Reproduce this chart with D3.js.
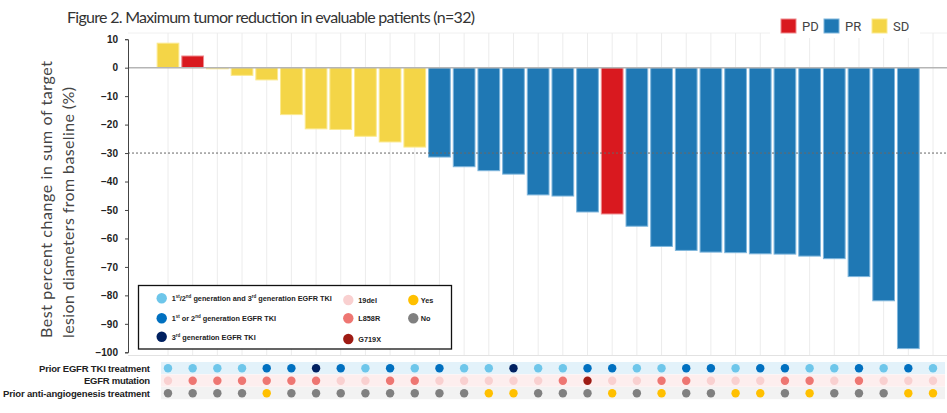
<!DOCTYPE html>
<html>
<head>
<meta charset="utf-8">
<script src="https://cdn.jsdelivr.net/npm/d3@7"></script>
<style>
  body { margin: 0; background: #fff; }
  svg { display: block; }
  .tick text { font-family: "Liberation Sans", Arial, sans-serif; font-weight: bold; font-size: 10px; fill: #222; }
</style>
</head>
<body>
<script>
// data
const patientIds = [1,2,3,4,5,6,7,8,9,10,11,12,13,14,15,16,17,18,19,20,21,22,23,24,25,26,27,28,29,30,31,32];
const bestChange = [8.6, 4.1, -0.4, -2.7, -4.3, -16.5, -21.5, -21.7, -24.1, -26.1, -27.9, -31.4, -34.8, -36.2, -37.4, -44.7,
                    -45.1, -50.7, -51.4, -55.7, -62.8, -64.2, -64.8, -65.0, -65.4, -65.5, -66.2, -67.1, -73.4, -81.9, -98.7, null];
const response = ["SD","PD","SD","SD","SD","SD","SD","SD","SD","SD","SD","PR","PR","PR","PR","PR",
                  "PR","PR","PD","PR","PR","PR","PR","PR","PR","PR","PR","PR","PR","PR","PR", null];
const priorTki = ["both","both","both","both","early","early","third","early","both","early","both","early","both","both","third","both",
                  "both","early","early","both","both","early","early","both","early","early","both","both","early","both","early","both"];
const mutation = ["19del","L858R","L858R","L858R","L858R","L858R","L858R","19del","19del","L858R","L858R","19del","19del","19del","19del","19del",
                  "L858R","G719X","19del","19del","L858R","L858R","19del","19del","19del","L858R","L858R","19del","L858R","19del","19del","19del"];
const antiAngio = ["No","No","No","No","Yes","No","No","No","No","No","No","No","No","Yes","Yes","No",
                   "No","No","Yes","No","Yes","No","No","Yes","Yes","No","Yes","No","No","No","Yes","Yes"];
const yTicks = [10,0,-10,-20,-30,-40,-50,-60,-70,-80,-90,-100];
const responseKeys = ["PD","PR","SD"];

const respColor = {PD: "#d9191f", PR: "#1f78b4", SD: "#f4d547"};
const respStroke = {PD: "#ee8a8d", PR: "#7fb6dc", SD: "#fbe98f"};
const tkiColor = {both: "#6ec6ea", early: "#0070c0", third: "#002060"};
const mutColor = {"19del": "#f9d0d0", "L858R": "#ee7672", "G719X": "#9e1b14"};
const angioColor = {Yes: "#ffc000", No: "#808080"};

const w = 947, h = 413;
const axisX = 128;

const svg = d3.select("body").append("svg").attr("width", w).attr("height", h);

const x = d3.scalePoint().domain(patientIds).range([168, 933]);
const step = x.step();
const barW = step * 0.88;
const y = d3.scaleLinear().domain([-100, 10]).range([352.3, 39.2]);

// title
svg.append("text")
  .attr("x", 67).attr("y", 23)
  .attr("textLength", 408)
  .style("font-family", "Lato, sans-serif")
  .style("font-size", "16px")
  .style("fill", "#333")
  .text("Figure 2. Maximum tumor reduction in evaluable patients (n=32)");

// y axis title, two lines
const yt = svg.append("g").attr("transform", "translate(0,338) rotate(-90)");
yt.append("text").attr("x", 0).attr("y", 52).attr("textLength", 277)
  .style("font-family", "Lato, sans-serif").style("font-size", "16px").style("fill", "#444")
  .text("Best percent change in sum of target");
yt.append("text").attr("x", 0).attr("y", 74).attr("textLength", 251)
  .style("font-family", "Lato, sans-serif").style("font-size", "16px").style("fill", "#444")
  .text("lesion diameters from baseline (%)");

// gridlines
svg.append("line").attr("x1", axisX).attr("x2", w).attr("y1", 33).attr("y2", 33)
  .attr("stroke", "#f0f0f0");
svg.append("g").selectAll("line").data(patientIds).enter().append("line")
  .attr("x1", d => x(d)).attr("x2", d => x(d))
  .attr("y1", 33).attr("y2", 355)
  .attr("stroke", "#ececec").attr("stroke-width", 1);
svg.append("line").attr("x1", axisX).attr("x2", w).attr("y1", 355.5).attr("y2", 355.5)
  .attr("stroke", "#e2e2e2");

// bars
svg.append("g").selectAll("rect")
  .data(patientIds.filter((d, i) => bestChange[i] !== null))
  .enter().append("rect")
  .attr("x", d => x(d) - barW / 2)
  .attr("width", barW)
  .attr("y", d => Math.min(y(bestChange[d - 1]), y(0)))
  .attr("height", d => Math.max(1, Math.abs(y(bestChange[d - 1]) - y(0))))
  .attr("fill", d => respColor[response[d - 1]])
  .attr("stroke", d => respStroke[response[d - 1]])
  .attr("stroke-width", 1);

// zero line and -30 line
svg.append("line").attr("x1", axisX).attr("x2", w).attr("y1", y(0)).attr("y2", y(0))
  .attr("stroke", "#b5b5b5").attr("stroke-width", 1.5);
svg.append("line").attr("x1", axisX).attr("x2", w).attr("y1", y(-30)).attr("y2", y(-30))
  .attr("stroke", "#666").attr("stroke-width", 1).attr("stroke-dasharray", "2,2");

// y axis
const yAxis = d3.axisLeft(y).tickValues(yTicks).tickSize(3).tickPadding(7);
const ya = svg.append("g").attr("transform", "translate(" + axisX + ",0)").call(yAxis);
ya.select(".domain").attr("stroke", "#444");
ya.selectAll(".tick line").attr("stroke", "#444");

// response legend (top right)
const rl = svg.append("g");
rl.append("rect").attr("x", 770).attr("y", 14).attr("width", 150).attr("height", 24).attr("fill", "#fff");
const rlx = [781, 824, 872];
responseKeys.forEach((k, i) => {
  rl.append("rect").attr("x", rlx[i]).attr("y", 19).attr("width", 15).attr("height", 14)
    .attr("fill", respColor[k]).attr("stroke", respStroke[k]);
  rl.append("text").attr("x", rlx[i] + 21).attr("y", 31)
    .style("font-family", "Roboto, sans-serif").style("font-size", "13px").style("fill", "#444")
    .text(k);
});

// patient characteristic rows
const rows = [
  {label: "Prior EGFR TKI treatment", len: 111, vals: priorTki, colors: tkiColor, band: "#e3f2fa", cy: 368.3},
  {label: "EGFR mutation", len: 66, vals: mutation, colors: mutColor, band: "#fdeeee", cy: 380.8},
  {label: "Prior anti-angiogenesis treatment", len: 147, vals: antiAngio, colors: angioColor, band: "#f2f2f2", cy: 393.3}
];
rows.forEach(r => {
  svg.append("rect").attr("x", 161).attr("width", 945 - 161)
    .attr("y", r.cy - 6.3).attr("height", 12.2).attr("fill", r.band);
  svg.append("text").attr("x", 150).attr("y", r.cy + 3.6).attr("text-anchor", "end")
    .attr("textLength", r.len)
    .style("font-family", "'Liberation Sans', Arial, sans-serif").style("font-weight", "bold")
    .style("font-size", "9.5px").style("fill", "#222")
    .text(r.label);
  svg.append("g").selectAll("circle").data(patientIds).enter().append("circle")
    .attr("cx", d => x(d)).attr("cy", r.cy).attr("r", 4.2)
    .attr("fill", d => r.colors[r.vals[d - 1]]);
});

// characteristics legend box
const lg = svg.append("g");
lg.append("rect").attr("x", 138.5).attr("y", 285.5).attr("width", 313).attr("height", 63.5)
  .attr("fill", "#fff").attr("stroke", "#111").attr("stroke-width", 1.3);

const legFont = (t) => t.style("font-family", "'Liberation Sans', Arial, sans-serif")
  .style("font-weight", "bold").style("font-size", "7.3px").style("fill", "#222");

function supText(g, xx, yy, parts) {
  const t = g.append("text").attr("x", xx).attr("y", yy);
  legFont(t);
  parts.forEach(p => {
    const s = t.append("tspan").text(p[0]);
    if (p[1]) s.attr("dy", -3).style("font-size", "4.5px");
    else if (p[2]) s.attr("dy", 3);
  });
}
const tkiItems = [
  {key: "both", cy: 298.3, parts: [["1"],["st",1],["/2",0,1],["nd",1],[" generation and 3",0,1],["rd",1],[" generation EGFR TKI",0,1]]},
  {key: "early", cy: 318.3, parts: [["1"],["st",1],[" or 2",0,1],["nd",1],[" generation EGFR TKI",0,1]]},
  {key: "third", cy: 336.7, parts: [["3"],["rd",1],[" generation EGFR TKI",0,1]]}
];
tkiItems.forEach(it => {
  lg.append("circle").attr("cx", 161.7).attr("cy", it.cy).attr("r", 5.2).attr("fill", tkiColor[it.key]);
  supText(lg, 171.7, it.cy + 3, it.parts);
});
const mutKeys = ["19del", "L858R", "G719X"];
const mutCy = [300, 318.3, 339];
mutKeys.forEach((k, i) => {
  lg.append("circle").attr("cx", 348.3).attr("cy", mutCy[i]).attr("r", 5.2).attr("fill", mutColor[k]);
  legFont(lg.append("text").attr("x", 358.3).attr("y", mutCy[i] + 3)).text(k);
});
const angioKeys = ["Yes", "No"];
const angioCy = [300, 318.3];
angioKeys.forEach((k, i) => {
  lg.append("circle").attr("cx", 413.3).attr("cy", angioCy[i]).attr("r", 5.2).attr("fill", angioColor[k]);
  legFont(lg.append("text").attr("x", 420.7).attr("y", angioCy[i] + 3)).text(k);
});
</script>
</body>
</html>
